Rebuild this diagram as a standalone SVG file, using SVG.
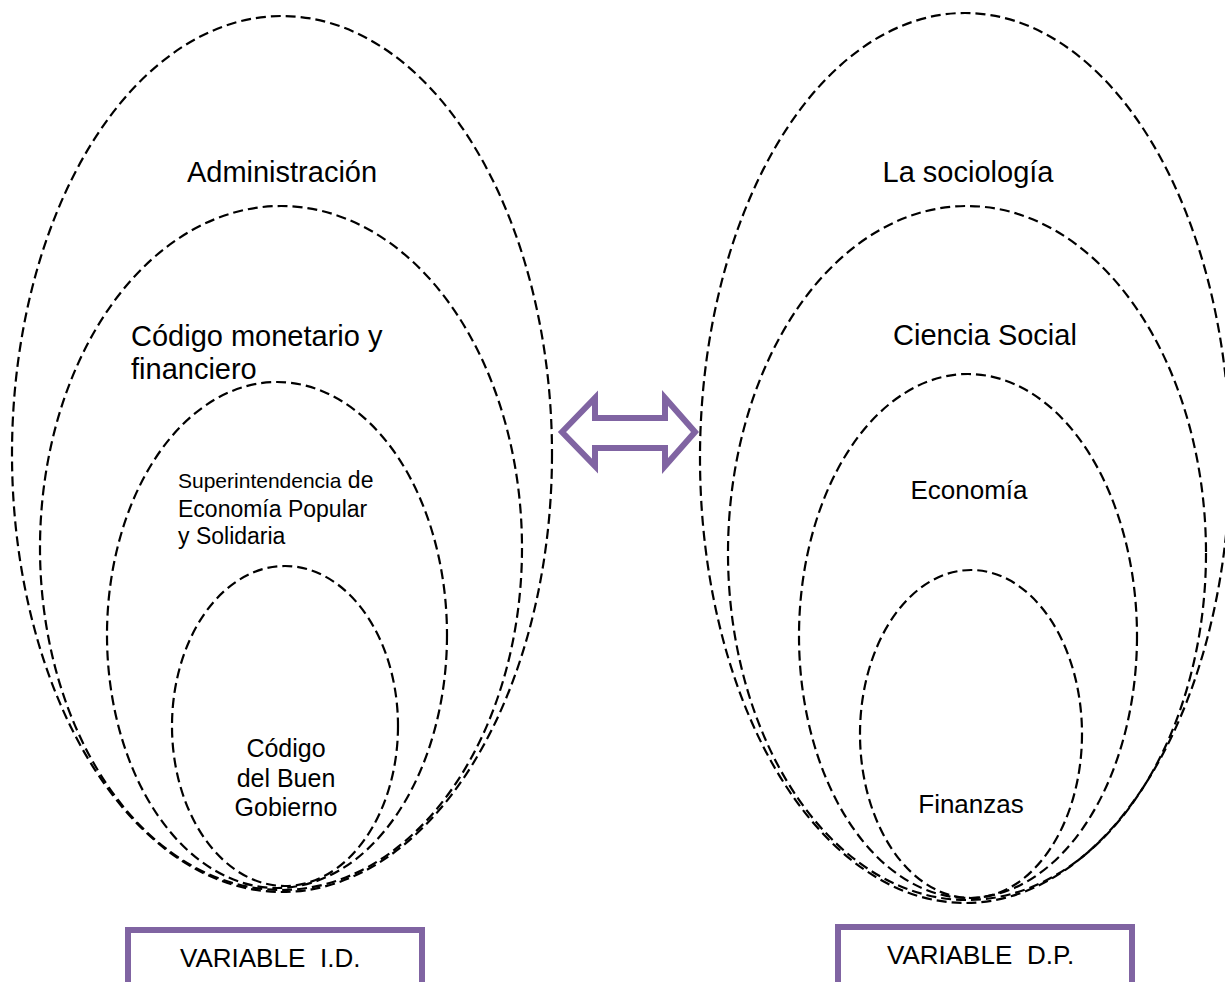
<svg xmlns="http://www.w3.org/2000/svg" width="1225" height="982" viewBox="0 0 1225 982">
<style>
.e{fill:none;stroke:#000;stroke-width:2.2;stroke-dasharray:10,5}
.t{font-family:"Liberation Sans",Arial,sans-serif;fill:#000}
.box{fill:#fff;stroke:#8064A2;stroke-width:6}
</style>
<rect width="1225" height="982" fill="#fff"/>
<g id="left">
<g id="l1"><ellipse class="e" cx="282" cy="454" rx="270" ry="438"/><text class="t" x="282" y="182" font-size="29" text-anchor="middle">Administración</text></g>
<g id="l2"><ellipse class="e" cx="281" cy="548" rx="241" ry="342"/><text class="t" x="131" y="346" font-size="29">Código monetario y</text><text class="t" x="131" y="379" font-size="29">financiero</text></g>
<g id="l3"><ellipse class="e" cx="277" cy="635" rx="170" ry="253"/><text class="t" x="178" y="488" font-size="21">Superintendencia<tspan font-size="23"> de</tspan></text><text class="t" x="178" y="517" font-size="23">Economía Popular</text><text class="t" x="178" y="544" font-size="23">y Solidaria</text></g>
<g id="l4"><ellipse class="e" cx="285" cy="726" rx="113" ry="160"/><text class="t" x="286" y="757" font-size="25" text-anchor="middle">Código</text><text class="t" x="286" y="787" font-size="25" text-anchor="middle">del Buen</text><text class="t" x="286" y="816" font-size="25" text-anchor="middle">Gobierno</text></g>
</g>
<g id="right">
<g id="r1"><ellipse class="e" cx="965" cy="458" rx="265" ry="445"/><text class="t" x="968" y="182" font-size="29" text-anchor="middle">La sociología</text></g>
<g id="r2"><ellipse class="e" cx="967" cy="553" rx="239" ry="347"/><text class="t" x="985" y="345" font-size="29" text-anchor="middle">Ciencia Social</text></g>
<g id="r3"><ellipse class="e" cx="968" cy="636" rx="169" ry="262"/><text class="t" x="969" y="499" font-size="26" text-anchor="middle">Economía</text></g>
<g id="r4"><ellipse class="e" cx="971" cy="734" rx="111" ry="164"/><text class="t" x="971" y="813" font-size="26" text-anchor="middle">Finanzas</text></g>
</g>
<g id="connectors">
<path d="M562,432 L595,398 L595,418 L665,418 L665,398 L695,432 L665,466 L665,448 L595,448 L595,466 Z" fill="#fff" stroke="#8064A2" stroke-width="6" stroke-linejoin="miter"/>
</g>
<g id="boxL"><rect class="box" x="128" y="930" width="294" height="70"/><text class="t" x="180" y="967" font-size="26">VARIABLE</text><text class="t" x="320" y="967" font-size="26">I.D.</text></g>
<g id="boxR"><rect class="box" x="838" y="927" width="294" height="70"/><text class="t" x="887" y="964" font-size="26">VARIABLE</text><text class="t" x="1027" y="964" font-size="26">D.P.</text></g>
</svg>
